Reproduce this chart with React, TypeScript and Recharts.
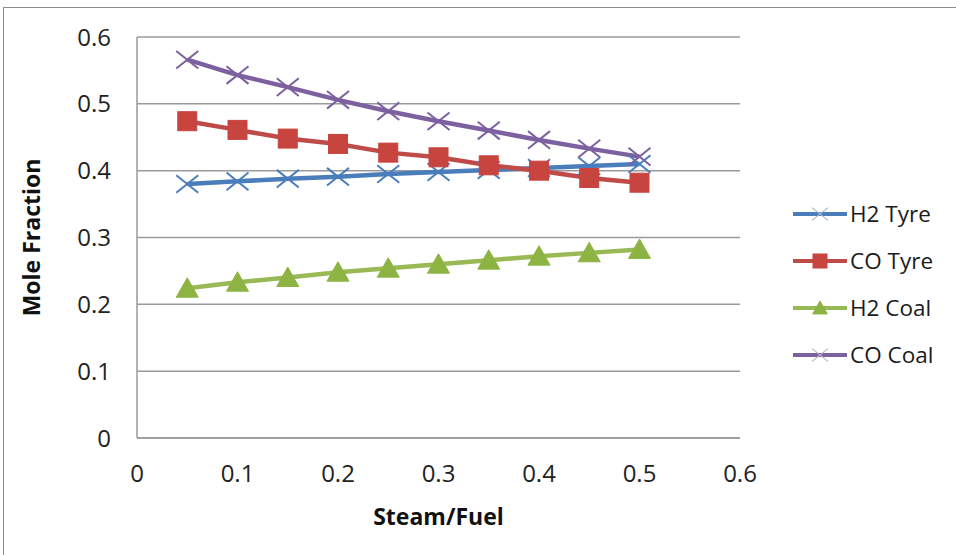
import React from 'react';
import { LineChart, Line, XAxis, YAxis, CartesianGrid, Legend, Label } from 'recharts';

const steamFuel = [0.05, 0.1, 0.15, 0.2, 0.25, 0.3, 0.35, 0.4, 0.45, 0.5];
const h2Tyre = [0.38, 0.384, 0.388, 0.391, 0.395, 0.398, 0.401, 0.404, 0.407, 0.41];
const coTyre = [0.474, 0.461, 0.448, 0.44, 0.427, 0.42, 0.408, 0.4, 0.389, 0.382];
const h2Coal = [0.224, 0.233, 0.24, 0.248, 0.254, 0.26, 0.266, 0.272, 0.277, 0.282];
const coCoal = [0.566, 0.543, 0.525, 0.506, 0.489, 0.474, 0.46, 0.446, 0.433, 0.421];
const xTicks = [0, 0.1, 0.2, 0.3, 0.4, 0.5, 0.6];
const yTicks = [0, 0.1, 0.2, 0.3, 0.4, 0.5, 0.6];
const seriesNames = ['H2 Tyre', 'CO Tyre', 'H2 Coal', 'CO Coal'];

const data = steamFuel.map((x, i) => ({
  x,
  h2Tyre: h2Tyre[i],
  coTyre: coTyre[i],
  h2Coal: h2Coal[i],
  coCoal: coCoal[i],
}));

const FONT = '"Open Sans", sans-serif';
const GRID = '#9a9a9a';

type MarkerKind = 'x' | 'square' | 'triangle';

function Marker({ kind, cx, cy, color, size, legend }: { kind: MarkerKind; cx: number; cy: number; color: string; size: number; legend?: boolean }) {
  const h = size / 2;
  if (kind === 'square') {
    return <rect x={cx - h} y={cy - h} width={size} height={size} fill={color} stroke={color} strokeWidth={1} />;
  }
  if (kind === 'triangle') {
    return (
      <polygon
        points={`${cx},${cy - h} ${cx + h * 1.05},${cy + h * 0.85} ${cx - h * 1.05},${cy + h * 0.85}`}
        fill={color}
        stroke={color}
        strokeWidth={1}
      />
    );
  }
  return (
    <g stroke={color} strokeWidth={legend ? 1.2 : 2} fill="none">
      <line x1={cx - h} y1={cy - h * 0.8} x2={cx + h} y2={cy + h * 0.8} />
      <line x1={cx - h} y1={cy + h * 0.8} x2={cx + h} y2={cy - h * 0.8} />
    </g>
  );
}

const series = [
  { key: 'h2Tyre', name: seriesNames[0], color: '#4A7EBB', marker: 'x' as MarkerKind, mcolor: '#4A7EBB', size: 22, lcolor: '#a8b8cc' },
  { key: 'coTyre', name: seriesNames[1], color: '#BE4B48', marker: 'square' as MarkerKind, mcolor: '#C8443E', size: 19, lcolor: '#C8443E' },
  { key: 'h2Coal', name: seriesNames[2], color: '#98B954', marker: 'triangle' as MarkerKind, mcolor: '#8DB443', size: 21, lcolor: '#8DB443' },
  { key: 'coCoal', name: seriesNames[3], color: '#7D60A0', marker: 'x' as MarkerKind, mcolor: '#7D60A0', size: 22, lcolor: '#b8b0c8' },
];

const makeDot = (s: typeof series[number]) => (props: any) => {
  const { cx, cy, index } = props;
  if (cx == null || cy == null) return <g key={`${s.key}-${index}`} />;
  return (
    <g key={`${s.key}-${index}`}>
      <Marker kind={s.marker} cx={cx} cy={cy} color={s.mcolor} size={s.size} />
    </g>
  );
};

const renderLegend = (props: any) => {
  const payload = [...(props.payload || [])].sort(
    (a: any, b: any) => seriesNames.indexOf(a.value) - seriesNames.indexOf(b.value)
  );
  return (
    <div style={{ display: 'flex', flexDirection: 'column', width: 165 }}>
      {payload.map((p: any, i: number) => {
        const s = series.find((q) => q.name === p.value) || series[i];
        return (
          <div key={p.value} style={{ height: 47, display: 'flex', alignItems: 'center' }}>
            <svg width={58} height={24} style={{ display: 'block' }}>
              <line x1={2} y1={12} x2={56} y2={12} stroke={s.color} strokeWidth={4} />
              <Marker kind={s.marker} cx={29} cy={12} color={s.lcolor} size={s.marker === 'x' ? 16 : 14} legend />
            </svg>
            <span style={{ fontFamily: FONT, fontSize: 22.5, color: '#1a1a1a', marginLeft: 1, whiteSpace: 'nowrap' }}>{p.value}</span>
          </div>
        );
      })}
    </div>
  );
};

const fmt = (v: number) => (v === 0 ? '0' : String(Math.round(v * 10) / 10));

export default function App() {
  return (
    <div style={{ position: 'absolute', left: 0, top: 0, width: 956, height: 555, background: '#ffffff', overflow: 'hidden' }}>
      <div style={{ position: 'absolute', left: 3, top: 7, width: 960, height: 560, borderTop: '1.5px solid #8c8c8c', borderLeft: '1.5px solid #8c8c8c' }} />
      <div style={{ position: 'absolute', left: 0, top: 0 }}>
        <LineChart width={956} height={555} data={data} margin={{ top: 37, right: 51, left: 0, bottom: 0 }}>
          <CartesianGrid horizontal vertical={false} stroke={GRID} strokeWidth={1.5} />
          <XAxis
            dataKey="x"
            type="number"
            domain={[0, 0.6]}
            ticks={xTicks}
            tickFormatter={fmt}
            height={117}
            tickLine={false}
            tickSize={0}
            tickMargin={27}
            axisLine={{ stroke: GRID, strokeWidth: 1.5 }}
            tick={{ fill: '#222', fontFamily: FONT, fontSize: 24 }}
            interval={0}
          >
            <Label
              content={(p: any) => {
                const vb = p.viewBox || { x: 137, width: 603 };
                return (
                  <text x={vb.x + vb.width / 2} y={516} textAnchor="middle" dominantBaseline="central" fontFamily={FONT} fontWeight="bold" fontSize={23} fill="#111">
                    Steam/Fuel
                  </text>
                );
              }}
            />
          </XAxis>
          <YAxis
            type="number"
            domain={[0, 0.6]}
            ticks={yTicks}
            tickFormatter={fmt}
            width={137}
            tickLine={false}
            tickSize={0}
            tickMargin={26}
            axisLine={{ stroke: GRID, strokeWidth: 1.5 }}
            tick={{ fill: '#222', fontFamily: FONT, fontSize: 24 }}
            interval={0}
          >
            <Label
              content={(p: any) => {
                const vb = p.viewBox || { y: 37, height: 401 };
                const cy = vb.y + vb.height / 2;
                return (
                  <text x={31} y={cy} transform={`rotate(-90, 31, ${cy})`} textAnchor="middle" dominantBaseline="central" fontFamily={FONT} fontWeight="bold" fontSize={23} fill="#111">
                    Mole Fraction
                  </text>
                );
              }}
            />
          </YAxis>
          <Legend
            layout="vertical"
            align="right"
            verticalAlign="top"
            content={renderLegend}
            wrapperStyle={{ left: 791, top: 190, width: 165 }}
          />
          {series.map((s) => (
            <Line
              key={s.key}
              type="linear"
              dataKey={s.key}
              name={s.name}
              stroke={s.color}
              strokeWidth={4.5}
              dot={makeDot(s)}
              activeDot={false}
              isAnimationActive={false}
            />
          ))}
        </LineChart>
      </div>
    </div>
  );
}
